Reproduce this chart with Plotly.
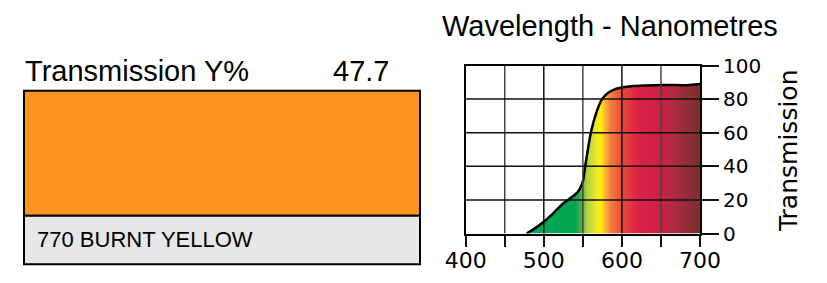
import plotly.graph_objects as go

W, H = 827, 283

# ---- data ----
wavelength = [478, 480, 490, 500, 512, 525, 534, 544, 550, 553, 557, 561, 567, 574,
              580, 585, 592, 602, 615, 630, 653, 683, 700]
transmission = [0, 0.5, 3.5, 7, 12, 18, 21, 25, 31, 40, 51.7, 61.6, 71.5, 79.5,
                82.8, 84.5, 86, 87, 87.8, 88.1, 88.4, 88.3, 89]
x_ticks = [400, 450, 500, 550, 600, 650, 700]
x_labels = ["400", "", "500", "", "600", "", "700"]
y_ticks = [0, 20, 40, 60, 80, 100]
y_labels = ["0", "20", "40", "60", "80", "100"]
filter_name = "770 BURNT YELLOW"
y_percent = "47.7"
swatch_color = "#FD951F"

spectrum = [
    [0.0, "#1b9aa0"], [0.267, "#1b9aa0"], [0.307, "#00a06a"], [0.333, "#00a651"],
    [0.467, "#00a651"], [0.493, "#4cb04a"], [0.52, "#b4d23c"], [0.553, "#e8e534"],
    [0.577, "#fff200"], [0.593, "#fdb93a"], [0.62, "#f47b3c"], [0.667, "#ea4a3b"],
    [0.733, "#da2347"], [0.833, "#cc2045"], [0.9, "#a82b3e"], [1.0, "#7b2f2f"],
]


def px(x):
    return x / W


def py(y):
    return 1 - y / H


fig = go.Figure()
fig.add_trace(go.Scatter(
    x=wavelength, y=transmission, mode="lines",
    line=dict(color="black", width=2.5, shape="spline", smoothing=0.6),
    fill="tozeroy",
    fillgradient=dict(type="horizontal", colorscale=spectrum, start=400, stop=700),
    hoverinfo="skip", showlegend=False,
))

# grid above the fill
for v in x_ticks[1:-1]:
    fig.add_shape(type="line", xref="x", yref="y", x0=v, x1=v, y0=0, y1=100,
                  line=dict(color="#111" if v % 100 == 0 else "#444", width=1.5), layer="above")
for v in y_ticks[1:-1]:
    fig.add_shape(type="line", xref="x", yref="y", x0=400, x1=700, y0=v, y1=v,
                  line=dict(color="#111", width=1.5), layer="above")

font_ax = "DejaVu Sans"
fig.update_xaxes(
    range=[400, 700], domain=[px(465.7), px(700)], automargin=False,
    tickmode="array", tickvals=x_ticks, ticktext=x_labels,
    ticks="outside", ticklen=11, tickwidth=1.5, tickcolor="#111",
    ticklabelstandoff=-5,
    showgrid=False, zeroline=False,
    showline=True, mirror=True, linecolor="black", linewidth=2,
    tickfont=dict(family=font_ax, size=22, color="black"),
    layer="above traces",
)
fig.update_yaxes(
    range=[0, 100], domain=[py(233.5), py(65.5)], side="right", automargin=False,
    tickmode="array", tickvals=y_ticks, ticktext=y_labels,
    ticks="outside", ticklen=17, tickwidth=1.5, tickcolor="#111",
    showgrid=False, zeroline=False,
    showline=True, mirror=True, linecolor="black", linewidth=2,
    tickfont=dict(family=font_ax, size=20, color="black"),
    layer="above traces",
)

# swatch
fig.add_shape(type="rect", xref="paper", yref="paper", x0=px(24), x1=px(420),
              y0=py(215.7), y1=py(90.7), fillcolor=swatch_color,
              line=dict(color="black", width=2))
fig.add_shape(type="rect", xref="paper", yref="paper", x0=px(24), x1=px(420),
              y0=py(264.3), y1=py(215.7), fillcolor="#E6E7E8",
              line=dict(color="black", width=2))

lib = "Liberation Sans"
ann = [
    dict(text="Wavelength - Nanometres", x=px(610), y=py(26), xanchor="center",
         yanchor="middle", font=dict(family=lib, size=29, color="black")),
    dict(text="Transmission Y%", x=px(23), y=py(71), xanchor="left",
         yanchor="middle", font=dict(family=lib, size=29, color="black")),
    dict(text=y_percent, x=px(391), y=py(71), xanchor="right",
         yanchor="middle", font=dict(family=lib, size=29, color="black")),
    dict(text=filter_name, x=px(35), y=py(239.5), xanchor="left",
         yanchor="middle", font=dict(family=lib, size=22, color="black")),
    dict(text="Transmission", x=px(788), y=py(151), xanchor="center",
         yanchor="middle", textangle=-90, font=dict(family=font_ax, size=25, color="black")),
]
for a in ann:
    fig.add_annotation(xref="paper", yref="paper", showarrow=False, **a)

fig.update_layout(
    width=W, height=H, margin=dict(l=0, r=0, t=0, b=0),
    paper_bgcolor="white", plot_bgcolor="white",
)
fig.write_html("out.html")
